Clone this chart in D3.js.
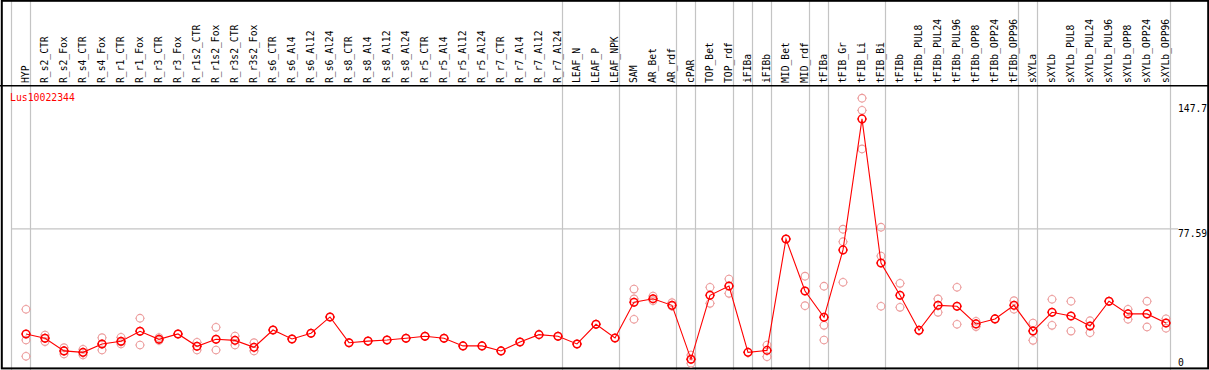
<!DOCTYPE html>
<html>
<head>
<meta charset="utf-8">
<script src="https://cdn.jsdelivr.net/npm/d3@7"></script>
<style>
  body { margin:0; background:#fff; }
  text { font-family:"DejaVu Sans Mono", monospace; }
</style>
</head>
<body>
<svg id="grafica"></svg>
<script>
// expression profile of one gene across samples

const svg_w = 1209;
const svg_h = 370;

const gene = "Lus10022344";

const samples = ["HYP","R_s2_CTR","R_s2_Fox","R_s4_CTR","R_s4_Fox","R_r1_CTR","R_r1_Fox",
  "R_r3_CTR","R_r3_Fox","R_r1s2_CTR","R_r1s2_Fox","R_r3s2_CTR","R_r3s2_Fox","R_s6_CTR",
  "R_s6_Al4","R_s6_Al12","R_s6_Al24","R_s8_CTR","R_s8_Al4","R_s8_Al12","R_s8_Al24",
  "R_r5_CTR","R_r5_Al4","R_r5_Al12","R_r5_Al24","R_r7_CTR","R_r7_Al4","R_r7_Al12","R_r7_Al24",
  "LEAF_N","LEAF_P","LEAF_NPK","SAM","AR_Bet","AR_rdf","cPAR","TOP_Bet","TOP_rdf",
  "iFIBa","iFIBb","MID_Bet","MID_rdf","tFIBa","tFIB_Gr","tFIB_Li","tFIB_Bi","tFIBb",
  "tFIBb_PUL8","tFIBb_PUL24","tFIBb_PUL96","tFIBb_OPP8","tFIBb_OPP24","tFIBb_OPP96",
  "sXYLa","sXYLb","sXYLb_PUL8","sXYLb_PUL24","sXYLb_PUL96","sXYLb_OPP8","sXYLb_OPP24","sXYLb_OPP96"];

// mean value per sample
const means = [18.5,16.1,9.0,8.2,12.9,14.4,20.0,15.5,18.5,11.6,15.5,14.9,11.0,20.7,
  15.7,18.9,28.0,13.6,14.5,15.1,16.1,17.2,16.1,11.8,11.8,9.0,14.0,18.1,17.2,
  12.9,23.9,16.2,36.2,38.2,34.5,4.3,40.1,45.3,8.2,9.3,71.6,42.5,27.8,65.5,138.8,58.2,
  40.1,20.5,34.5,34.0,24.1,26.9,34.5,20.1,30.6,28.5,22.9,36.8,29.7,29.7,24.6];

// single replicates per sample
const replicates = [
  [32.3,15.1,6.0],[17.9,16.2,14.2],[10.8,9.0,7.3],[9.9,8.0,6.7],[16.4,12.9,9.5],
  [16.6,14.0,12.9],[27.3,20.0,12.3],[16.5,14.8],[18.5],[13.8,9.5],[22.2,9.5],
  [17.3,12.3],[13.6,9.0],[20.7],[15.7],[18.9],[28.0],[13.6],[14.5],[15.1],[16.1],
  [17.2],[16.1],[11.8],[11.8],[9.0],[14.0],[18.1],[17.2],[12.9],[23.9],[16.2],
  [43.6,38.1,26.7],[39.7,37.1],[36.0,34.1],[6.7,4.2,2.1],[44.6,35.6],[49.2,41.2],
  [8.2],[12.3,5.8],[71.6],[50.8,34.3],[45.2,23.3,15.1],[77.1,70.1,47.4],
  [150.4,143.6,122.0],[78.2,62.1,34.0],[46.8,33.4],[20.5],[38.1,30.6],[44.6,23.9],
  [25.6,22.6],[26.9],[37.1,32.3],[24.6,20.1,14.9],[37.9,23.3],[36.8,20.1],
  [25.9,19.2],[36.8],[32.3,26.7],[36.8,22.4],[27.0,21.7]];

// first sample of each group (grey separators)
const group_starts = ["HYP","R_s2_CTR","LEAF_N","SAM","cPAR","TOP_Bet","iFIBa","iFIBb",
  "MID_Bet","tFIBa","tFIB_Gr","tFIBb","sXYLa","sXYLb"];

const y_ticks = [0, 77.59, 147.7];

let svg = d3.select("#grafica")
  .attr("width", svg_w)
  .attr("height", svg_h)

let x_scale = d3.scaleBand()
  .domain(samples)
  .range([11, 1170])

const px = d => x_scale(d) + 15; // marker position inside the band

let y_scale = d3.scaleLinear()
  .domain([0, 147.7])
  .range([367, 103])

// grey vertical separators, full height
let seps = group_starts.map(d => x_scale(d)).concat([x_scale.range()[1]]);
svg.append("g")
  .selectAll("line")
  .data(seps)
  .enter().append("line")
  .attr("x1", d => d + 0.5).attr("x2", d => d + 0.5)
  .attr("y1", 0).attr("y2", svg_h)
  .attr("stroke", "#c4c4c4")
  .attr("stroke-width", 1.2)

// horizontal grid at middle tick
svg.append("line")
  .attr("x1", 11).attr("x2", 1178)
  .attr("y1", y_scale(77.59) + 0.5).attr("y2", y_scale(77.59) + 0.5)
  .attr("stroke", "#c4c4c4")
  .attr("stroke-width", 1.2)

// frame and header separator
svg.append("rect")
  .attr("x", 1.8).attr("y", 0.8)
  .attr("width", 1206.4).attr("height", 367.6)
  .attr("fill", "none")
  .attr("stroke", "black")
  .attr("stroke-width", 2)

svg.append("line")
  .attr("x1", 0).attr("x2", svg_w)
  .attr("y1", 85.8).attr("y2", 85.8)
  .attr("stroke", "black")
  .attr("stroke-width", 1.6)

// rotated sample names
svg.append("g")
  .selectAll("text")
  .data(samples)
  .enter().append("text")
  .attr("transform", d => `translate(${px(d) + 3},83) rotate(-90)`)
  .attr("font-size", "9.7px")
  .attr("fill", "black")
  .text(d => d)

// gene name
svg.append("text")
  .attr("x", 10).attr("y", 100.5)
  .attr("font-size", "9.8px")
  .attr("fill", "red")
  .text(gene)

// y labels on the right
svg.append("g")
  .selectAll("text")
  .data(y_ticks)
  .enter().append("text")
  .attr("x", 1178)
  .attr("y", d => d == 0 ? y_scale(d) - 1.5 : y_scale(d) + 8.5)
  .attr("font-size", "9.7px")
  .attr("fill", "black")
  .text(d => d)

// marker: ring with tiny ticks on four sides
function marker(r) {
  let p = d3.path();
  p.arc(0, 0, r, 0, 2 * Math.PI);
  p.moveTo(0, -r - 1); p.lineTo(0, -r);
  p.moveTo(0, r); p.lineTo(0, r + 1);
  p.moveTo(-r - 1, 0); p.lineTo(-r, 0);
  p.moveTo(r, 0); p.lineTo(r + 1, 0);
  return p.toString();
}

// replicates (pale)
let rep_points = [];
samples.forEach((s, i) => replicates[i].forEach(v => rep_points.push({s: s, v: v})));

svg.append("g")
  .selectAll("path")
  .data(rep_points)
  .enter().append("path")
  .attr("transform", d => `translate(${px(d.s)},${y_scale(d.v)})`)
  .attr("d", marker(3.8))
  .attr("fill", "none")
  .attr("stroke", "#ec9c9c")
  .attr("stroke-width", 1.1)

// mean line
let line = d3.line()
  .x((d, i) => px(samples[i]))
  .y(d => y_scale(d))

svg.append("path")
  .datum(means)
  .attr("d", line)
  .attr("fill", "none")
  .attr("stroke", "red")
  .attr("stroke-width", 1.1)

svg.append("g")
  .selectAll("path")
  .data(means)
  .enter().append("path")
  .attr("transform", (d, i) => `translate(${px(samples[i])},${y_scale(d)})`)
  .attr("d", marker(3.8))
  .attr("fill", "none")
  .attr("stroke", "red")
  .attr("stroke-width", 1.5)
</script>
</body>
</html>
